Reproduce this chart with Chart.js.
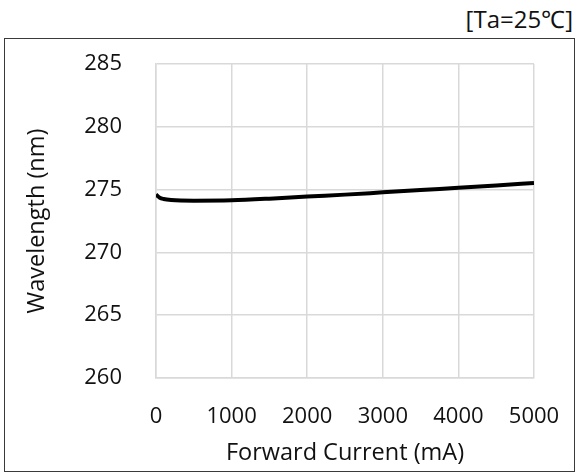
<!DOCTYPE html>
<html>
<head>
<meta charset="utf-8">
<script src="https://cdn.jsdelivr.net/npm/chart.js@4.4.1/dist/chart.umd.min.js"></script>
<style>
  body { margin: 0; background: #fff; }
  #wrap { position: relative; width: 578px; height: 474px; }
  #note { position: absolute; right: 5px; top: 2px; font: 24px "Open Sans", sans-serif; color: #111; }
  #box { position: absolute; left: 4px; top: 38px; width: 569px; height: 432px; border: 1.5px solid #3a3a3a; }
  canvas { position: absolute; left: 0; top: 0; }
</style>
</head>
<body>
<div id="wrap">
  <div id="note">[Ta=25℃]</div>
  <div id="box"></div>
  <canvas id="myChart" width="578" height="474"></canvas>
</div>
<script>
const current = [0, 50, 100, 200, 500, 1000, 1500, 2000, 2500, 3000, 3500, 4000, 4500, 5000];
const wavelength = [274.6, 274.35, 274.25, 274.17, 274.12, 274.15, 274.28, 274.45, 274.6, 274.78, 274.96, 275.15, 275.33, 275.53];
const xTicks = [0, 1000, 2000, 3000, 4000, 5000];
const yTicks = [260, 265, 270, 275, 280, 285];

const ctx = document.getElementById('myChart');
const font = { family: '"Open Sans", sans-serif', size: 22 };
const titleFont = { family: '"Open Sans", sans-serif', size: 23.5 };

new Chart(ctx, {
  type: 'scatter',
  data: {
    datasets: [{
      data: current.map((c, i) => ({ x: c, y: wavelength[i] })),
      showLine: true,
      borderColor: '#000',
      borderWidth: 4,
      pointRadius: 0,
      cubicInterpolationMode: 'monotone',
      fill: false
    }]
  },
  options: {
    responsive: false,
    animation: false,
    layout: { padding: { top: 64, right: 44, left: 0, bottom: 0 } },
    plugins: { legend: { display: false }, tooltip: { enabled: false } },
    scales: {
      x: {
        min: 0, max: 5000,
        afterBuildTicks: s => { s.ticks = xTicks.map(v => ({ value: v })); },
        afterFit: s => { s.height = 96; s.paddingLeft = 0; s.paddingRight = 0; },
        grid: { color: '#d9d9d9', lineWidth: 1.5, drawTicks: false },
        border: { color: '#d9d9d9', width: 1.5 },
        ticks: { font: font, color: '#111', padding: 26, maxRotation: 0, callback: v => String(v) },
        title: { display: true, text: 'Forward Current (mA)', font: titleFont, color: '#111', padding: { top: 0, bottom: 7 } }
      },
      y: {
        min: 260, max: 285,
        afterBuildTicks: s => { s.ticks = yTicks.map(v => ({ value: v })); },
        afterFit: s => { s.width = 156; s.paddingTop = 0; s.paddingBottom = 0; },
        grid: { color: '#d9d9d9', lineWidth: 1.5, drawTicks: false },
        border: { color: '#d9d9d9', width: 1.5 },
        ticks: { font: font, color: '#111', padding: 34, callback: v => String(v) },
        title: { display: true, text: 'Wavelength (nm)', font: titleFont, color: '#111', padding: { top: 23, bottom: 0 } }
      }
    }
  }
});
</script>
</body>
</html>
